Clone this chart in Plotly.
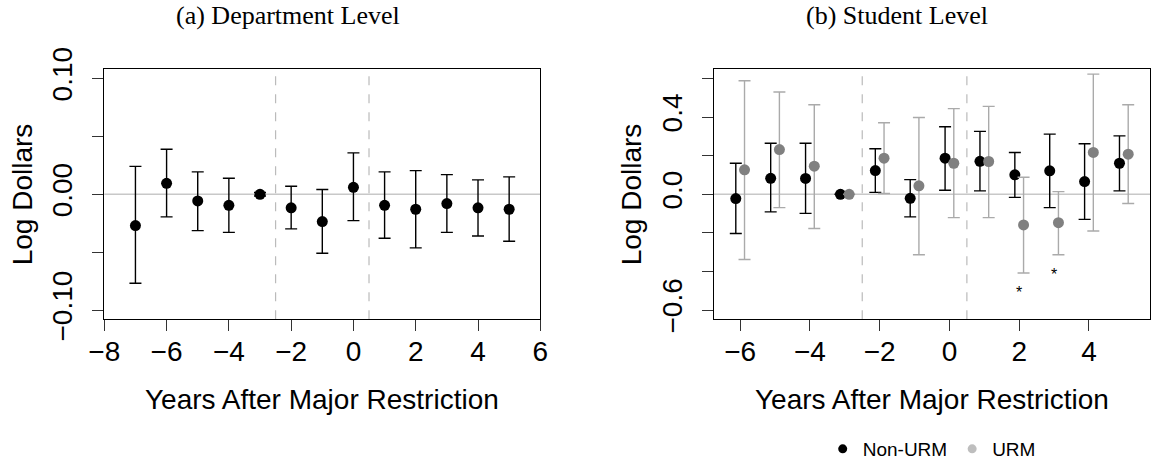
import plotly.graph_objects as go

# ---------------- data ----------------
dept_years = [-7, -6, -5, -4, -3, -2, -1, 0, 1, 2, 3, 4, 5]
dept_est = [-0.027, 0.0095, -0.0057, -0.0095, 0.0, -0.0117, -0.0235, 0.006, -0.0095, -0.0129, -0.008, -0.0117, -0.0129]
dept_lo = [-0.0767, -0.0195, -0.0313, -0.0328, -0.0015, -0.0298, -0.0509, -0.0227, -0.0379, -0.0462, -0.0328, -0.0359, -0.0405]
dept_hi = [0.0241, 0.0388, 0.0193, 0.0138, 0.0015, 0.0069, 0.0041, 0.0357, 0.0193, 0.0204, 0.017, 0.0124, 0.015]

stud_years = [-6, -5, -4, -3, -2, -1, 0, 1, 2, 3, 4, 5]
nonurm_est = [-0.022, 0.083, 0.082, 0.0, 0.123, -0.021, 0.187, 0.171, 0.101, 0.122, 0.066, 0.161]
nonurm_lo = [-0.203, -0.091, -0.099, 0.0, 0.010, -0.117, 0.021, 0.018, -0.016, -0.069, -0.130, 0.018]
nonurm_hi = [0.161, 0.265, 0.265, 0.0, 0.236, 0.076, 0.350, 0.326, 0.217, 0.312, 0.262, 0.303]
urm_est = [0.127, 0.232, 0.146, 0.0, 0.187, 0.044, 0.161, 0.170, -0.159, -0.147, 0.217, 0.208]
urm_lo = [-0.338, -0.069, -0.177, 0.0, 0.004, -0.313, -0.121, -0.121, -0.408, -0.313, -0.190, -0.048]
urm_hi = [0.589, 0.530, 0.464, 0.0, 0.371, 0.398, 0.444, 0.456, 0.088, 0.014, 0.623, 0.464]

star_years = [2, 3]  # significant URM estimates

left_xticks = [-8, -6, -4, -2, 0, 2, 4, 6]
left_yticks = [-0.10, -0.05, 0.0, 0.05, 0.10]
left_yticktext = ["\u22120.10", "", "0.00", "", "0.10"]
right_xticks = [-6, -4, -2, 0, 2, 4]
right_yticks = [-0.6, -0.4, -0.2, 0.0, 0.2, 0.4, 0.6]
right_yticktext = ["\u22120.6", "", "", "0.0", "", "0.4", ""]
period_breaks = [-2.5, 0.5]

titles = ["(a) Department Level", "(b) Student Level"]
xlabel = "Years After Major Restriction"
ylabel = "Log Dollars"

# ---------------- style ----------------
W, H = 1151, 464
SANS = "Liberation Sans, Arial, Helvetica, sans-serif"
SERIF = "Liberation Serif, Times New Roman, serif"
BLACK = "#000000"
URM_PT = "#808080"
URM_BAR = "#AAAAAA"
URM_LEG = "#BEBEBE"
OFF = 0.125

def px(x):
    return x / W

def py(y):
    return 1 - y / H

L_dom = [px(104.3), px(540.3)]
R_dom = [px(714), px(1150)]
Y_dom = [py(319.3), py(69.3)]

fig = go.Figure()

def add_series(x, est, lo, hi, color, bar_color, xaxis, yaxis, name):
    fig.add_trace(go.Scatter(
        x=x, y=est, mode="markers", xaxis=xaxis, yaxis=yaxis, showlegend=False, name=name,
        marker=dict(color=color, size=11, line=dict(width=0)),
        error_y=dict(type="data", symmetric=False,
                     array=[h - e for h, e in zip(hi, est)],
                     arrayminus=[e - l for e, l in zip(est, lo)],
                     color=bar_color, thickness=1.4, width=6),
    ))

add_series(dept_years, dept_est, dept_lo, dept_hi, BLACK, BLACK, "x", "y", "Department")
add_series([v - OFF for v in stud_years], nonurm_est, nonurm_lo, nonurm_hi, BLACK, BLACK, "x2", "y2", "Non-URM")
add_series([v + OFF for v in stud_years], urm_est, urm_lo, urm_hi, URM_PT, URM_BAR, "x2", "y2", "URM")

# legend-only entries
fig.add_trace(go.Scatter(x=[None], y=[None], mode="markers", name="Non-URM",
                         marker=dict(color=BLACK, size=9), xaxis="x2", yaxis="y2"))
fig.add_trace(go.Scatter(x=[None], y=[None], mode="markers", name="URM",
                         marker=dict(color=URM_LEG, size=9), xaxis="x2", yaxis="y2"))

shapes = []
for xr, yr in (("x", "y"), ("x2", "y2")):
    shapes.append(dict(type="line", xref=xr + " domain", yref=yr, x0=0, x1=1, y0=0, y1=0,
                       line=dict(color="#C8C8C8", width=1.4), layer="below"))
    for b in period_breaks:
        shapes.append(dict(type="line", xref=xr, yref=yr + " domain", x0=b, x1=b, y0=0, y1=1,
                           line=dict(color="#BBBBBB", width=1.2, dash="dash"), layer="below"))

annotations = []
for i, t in enumerate(titles):
    annotations.append(dict(text=t, xref="paper", yref="paper", x=px([288, 897][i]), y=py(15),
                            xanchor="center", yanchor="middle", showarrow=False,
                            font=dict(family=SERIF, size=26, color=BLACK)))
for dom in (L_dom, R_dom):
    annotations.append(dict(text=xlabel, xref="paper", yref="paper", x=(dom[0] + dom[1]) / 2, y=py(399),
                            xanchor="center", yanchor="middle", showarrow=False,
                            font=dict(family=SANS, size=28, color=BLACK)))
for xc in (22, 631):
    annotations.append(dict(text=ylabel, xref="paper", yref="paper", x=px(xc), y=(Y_dom[0] + Y_dom[1]) / 2,
                            xanchor="center", yanchor="middle", textangle=-90, showarrow=False,
                            font=dict(family=SANS, size=28, color=BLACK)))
for s in star_years:
    i = stud_years.index(s)
    annotations.append(dict(text="*", xref="x2", yref="y2", x=s, y=urm_lo[i] - 0.075, yshift=-5,
                            xanchor="center", yanchor="middle", showarrow=False,
                            font=dict(family=SANS, size=16, color=BLACK)))

axis_common = dict(showgrid=False, zeroline=False, showline=True, linecolor=BLACK, linewidth=1,
                   mirror=True, ticks="outside", ticklen=11, tickwidth=1, tickcolor="#333333",
                   automargin=False,
                   tickfont=dict(family=SANS, size=28, color=BLACK))

fig.update_layout(
    template="none",
    width=W, height=H, margin=dict(l=0, r=0, t=0, b=0, pad=0, autoexpand=False),
    paper_bgcolor="white", plot_bgcolor="white",
    font=dict(family=SANS, color=BLACK),
    xaxis=dict(domain=L_dom, range=[-8, 6], tickvals=left_xticks, ticklabelstandoff=-4,
               anchor="y", **axis_common),
    yaxis=dict(domain=Y_dom, range=[-0.1078, 0.1078], tickvals=left_yticks, ticktext=left_yticktext,
               tickangle=-90, ticklabelstandoff=9, anchor="x", **axis_common),
    xaxis2=dict(domain=R_dom, range=[-6.75, 5.75], tickvals=right_xticks, ticklabelstandoff=-4,
                anchor="y2", **axis_common),
    yaxis2=dict(domain=Y_dom, range=[-0.648, 0.648], tickvals=right_yticks, ticktext=right_yticktext,
                tickangle=-90, ticklabelstandoff=9, anchor="x2", **axis_common),
    shapes=shapes, annotations=annotations,
    showlegend=True,
    legend=dict(orientation="h", x=px(822.7), y=py(449), xanchor="left", yanchor="middle",
                font=dict(family=SANS, size=19, color=BLACK), bgcolor="rgba(0,0,0,0)",
                borderwidth=0, itemclick=False, tracegroupgap=0),
)

fig.write_html("out.html", config={"displayModeBar": False},
               post_script="document.body.style.margin='0px';")
